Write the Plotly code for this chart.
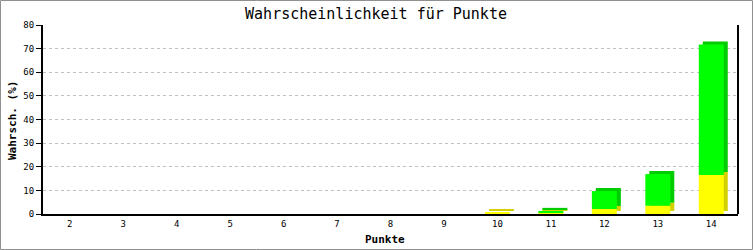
import plotly.graph_objects as go

categories = [2, 3, 4, 5, 6, 7, 8, 9, 10, 11, 12, 13, 14]
yellow_vals = [0, 0, 0, 0, 0, 0, 0, 0, 0.7, 0.6, 2.1, 3.5, 16.5]
green_vals = [0, 0, 0, 0, 0, 0, 0, 0, 0.0, 0.7, 7.6, 13.4, 55.2]
y_ticks = [0, 10, 20, 30, 40, 50, 60, 70, 80]

W, H = 753, 250
L, R, T, B = 43, 738, 25, 214
pw, ph = R - L, B - T

bar_w = 0.467
dx = 0.075
dy = 1.3

green_base = [y for y in yellow_vals]
fig = go.Figure()
# depth (shadow) faces
fig.add_trace(go.Bar(x=categories, y=yellow_vals, base=[dy] * len(categories),
                     width=bar_w, offset=-bar_w / 2 + dx,
                     marker=dict(color="#d2d000", line=dict(width=0)), hoverinfo="skip"))
fig.add_trace(go.Bar(x=categories, y=green_vals, base=[b + dy for b in green_base],
                     width=bar_w, offset=-bar_w / 2 + dx,
                     marker=dict(color="#00cc00", line=dict(width=0)), hoverinfo="skip"))
# front faces
fig.add_trace(go.Bar(x=categories, y=yellow_vals, base=[0] * len(categories),
                     width=bar_w, offset=-bar_w / 2,
                     marker=dict(color="#ffff00", line=dict(width=0))))
fig.add_trace(go.Bar(x=categories, y=green_vals, base=green_base,
                     width=bar_w, offset=-bar_w / 2,
                     marker=dict(color="#00ff00", line=dict(width=0))))

mono = "DejaVu Sans Mono"
fig.update_layout(
    template="none",
    width=W, height=H,
    margin=dict(l=L, r=W - R, t=T, b=H - B, pad=0, autoexpand=False),
    barmode="overlay",
    showlegend=False,
    paper_bgcolor="white",
    plot_bgcolor="white",
    font=dict(family=mono, color="black"),
    title=dict(text="Wahrscheinlichkeit für Punkte", x=376 / W, xanchor="center",
               xref="container",
               y=1 - 14 / H, yanchor="middle", font=dict(family=mono, size=15)),
    xaxis=dict(range=[1.5, 14.5], tickmode="array", tickvals=categories,
               ticktext=[str(c) for c in categories], showgrid=False,
               showline=True, linecolor="black", linewidth=2, mirror=False,
               ticks="", tickfont=dict(family=mono, size=9), ticklabelstandoff=0,
               automargin=False, zeroline=False),
    yaxis=dict(range=[0, 80], tickmode="array", tickvals=y_ticks,
               showgrid=True, gridcolor="#c0c0c0", griddash="dot", gridwidth=1,
               showline=True, linecolor="black", linewidth=2,
               ticks="outside", ticklen=5, tickcolor="black", tickwidth=1,
               tickfont=dict(family=mono, size=9), zeroline=False, automargin=False),
    annotations=[
        dict(text="<b>Punkte</b>", xref="paper", yref="paper",
             x=(385 - L) / pw, y=(B - 239) / ph, xanchor="center", yanchor="middle",
             showarrow=False, font=dict(family=mono, size=11)),
        dict(text="<b>Wahrsch. (%)</b>", xref="paper", yref="paper",
             x=(12 - L) / pw, y=(B - 121) / ph, xanchor="center", yanchor="middle",
             textangle=-90, showarrow=False, font=dict(family=mono, size=11)),
    ],
    shapes=[
        dict(type="line", xref="paper", yref="paper", x0=1, x1=1, y0=0, y1=1,
             line=dict(color="black", width=2)),
        dict(type="rect", xref="paper", yref="paper",
             x0=(0.5 - L) / pw, x1=(W - 0.5 - L) / pw,
             y0=(B - (H - 0.5)) / ph, y1=(B - 0.5) / ph,
             line=dict(color="#909090", width=1), fillcolor="rgba(0,0,0,0)"),
    ],
)

fig.write_html("out.html")
